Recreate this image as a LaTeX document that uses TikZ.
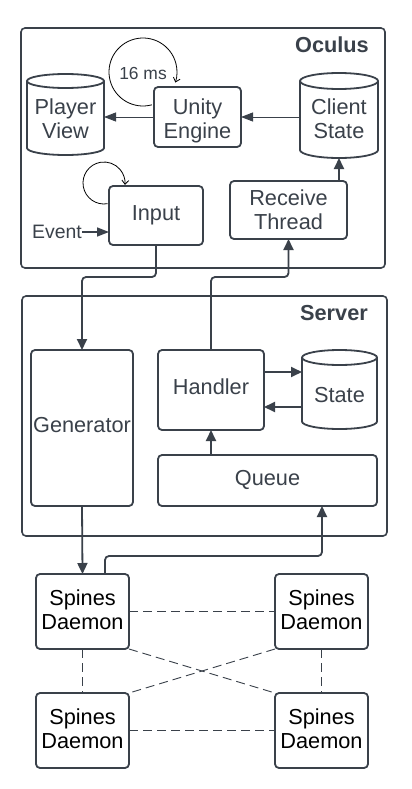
\documentclass[tikz,border=0pt]{standalone}
\usepackage{fontspec}
\setmainfont{Liberation Sans}
\usetikzlibrary{arrows.meta,calc}
\definecolor{lc}{RGB}{58,65,74}
\newcommand{\fmain}{\fontsize{21.8}{25}\selectfont}
\newcommand{\hstrut}[1]{\rule{0pt}{#1}}
\newcommand{\cylpath}[2]{%
  \path[draw=lc, line width=1.8bp] let \p1=(#1.north west), \p2=(#1.south east) in
    (\x1,\y1-#2) -- (\x1,\y2+#2)
    arc[start angle=180, end angle=360, x radius={(\x2-\x1)/2}, y radius=#2]
    -- (\x2,\y1-#2)
    arc[start angle=0, end angle=180, x radius={(\x2-\x1)/2}, y radius=#2]
    -- cycle
    (\x1,\y1-#2) arc[start angle=180, end angle=360, x radius={(\x2-\x1)/2}, y radius=#2];
}
\begin{document}
\begin{tikzpicture}[x=1bp,y=-1bp,
  container/.style={draw=lc, line width=1.6bp, rounded corners=4bp, inner sep=0pt, outer sep=0pt},
  box/.style={draw=lc, line width=1.8bp, rounded corners=4bp, inner sep=0pt, outer sep=0pt, align=center, text=lc, font=\fmain},
  cyl/.style={inner sep=0pt, outer sep=0pt, align=center, text=lc, font=\fmain},
  spine/.style={box, text=black, minimum width=93bp, minimum height=75bp},
  conn/.style={draw=lc, line width=1.8bp, rounded corners=4bp, -{Triangle[length=11bp,width=10bp]}},
  thinconn/.style={draw=lc, line width=0.9bp, -{Triangle[length=12bp,width=9bp]}},
  loopline/.style={draw=black, line width=0.8bp, -{Straight Barb[length=4bp,width=7bp]}},
  peer/.style={draw=lc, line width=0.9bp, dash pattern=on 9bp off 5bp},
  title/.style={font=\fmain\bfseries, text=lc, inner sep=0pt, anchor=east}
]
\fill[white] (0,0) rectangle (411,789);
\useasboundingbox (0,0) rectangle (411,789);

% containers
\node[container, minimum width=364bp, minimum height=240bp] (oculus) at (203,148) {};
\node[title] (oculuslabel) at (369,45) {Oculus};
\node[container, minimum width=365bp, minimum height=240bp] (server) at (204.5,416) {};
\node[title] (serverlabel) at (368,313) {Server};

% Oculus
\node[cyl, minimum width=77bp, minimum height=81bp] (pv) at (65.5,114.5) {\hstrut{31.4bp}Player\\View\strut};
\cylpath{pv}{7bp}
\node[box, minimum width=87bp, minimum height=60bp] (unity) at (197.5,117) {\hstrut{26.4bp}Unity\\Engine\strut};
\node[cyl, minimum width=78bp, minimum height=85bp] (client) at (339,115.5) {\hstrut{29.4bp}Client\\State\strut};
\cylpath{client}{8bp}
\node[box, minimum width=94bp, minimum height=59bp] (input) at (156,215.5) {\hstrut{17.4bp}Input\strut};
\node[box, minimum width=117bp, minimum height=58bp] (receive) at (288.5,210) {\hstrut{22.4bp}Receive\\Thread\strut};
\node[text=lc, font=\fontsize{19.5}{23}\selectfont, inner sep=0pt] (event) at (57,232) {Event};
\node[text=lc, font=\fontsize{17.5}{20}\selectfont, inner sep=0pt] (ms) at (143,73) {16 ms};

% Server
\node[box, minimum width=102bp, minimum height=156bp] (gen) at (82,428) {\hstrut{17.4bp}Generator\strut};
\node[box, minimum width=106bp, minimum height=80bp] (handler) at (211,390) {\hstrut{16.4bp}Handler\strut};
\node[cyl, minimum width=75bp, minimum height=79bp] (state) at (339.5,389.5) {\hstrut{34.4bp}State\strut};
\cylpath{state}{7.5bp}
\node[box, minimum width=219bp, minimum height=51bp] (queue) at (267.5,480.5) {\hstrut{16.4bp}Queue\strut};

% Spines
\node[spine] (sp1) at (82.5,611.5) {\hstrut{19.4bp}Spines\\Daemon\strut};
\node[spine] (sp2) at (321.5,611.5) {\hstrut{19.4bp}Spines\\Daemon\strut};
\node[spine] (sp3) at (82.5,730.5) {\hstrut{19.4bp}Spines\\Daemon\strut};
\node[spine] (sp4) at (321.5,730.5) {\hstrut{19.4bp}Spines\\Daemon\strut};

% loops
\coordinate (uloop) at (143,72);
\draw[loopline] ($(uloop)+(-75:34bp)$) arc[start angle=-75, end angle=-378, radius=34bp];
\coordinate (iloop) at (104,183);
\draw[loopline] ($(iloop)+(-80:21bp)$) arc[start angle=-80, end angle=-365, radius=21bp];

% Oculus connectors
\draw[thinconn] (client.west |- unity.east) -- (unity.east);
\draw[thinconn] (unity.west) -- (unity.west -| pv.east);
\draw[conn] (client.south |- receive.north) -- (client.south);
\draw[draw=lc, line width=1.5bp, -{Triangle[length=12bp,width=9bp]}] (event.east) -- (event.east -| input.west);

% between containers
\draw[conn] (input.south) -- ++(0,32) -| (gen.north);
\draw[conn] (handler.north) -- ++(0,-73) -| (receive.south);

% Server connectors
\draw[conn] ([yshift=18bp]handler.east) -- ([yshift=18bp]handler.east -| state.west);
\draw[conn] ([yshift=-17bp]handler.east -| state.west) -- ([yshift=-17bp]handler.east);
\draw[conn] (handler.south |- queue.north) -- (handler.south);

% to spines
\draw[conn] (gen.south) -- (sp1.north);
\draw[conn] ([xshift=22.5bp]sp1.north) -- ++(0,-18) -| ([xshift=54.5bp]queue.south);

% peer links
\draw[peer] (sp1.east) -- (sp2.west);
\draw[peer] (sp3.east) -- (sp4.west);
\draw[peer] (sp1.south) -- (sp3.north);
\draw[peer] (sp2.south) -- (sp4.north);
\draw[peer] (sp1.south east) -- (sp4.north west);
\draw[peer] (sp2.south west) -- (sp3.north east);
\end{tikzpicture}
\end{document}
